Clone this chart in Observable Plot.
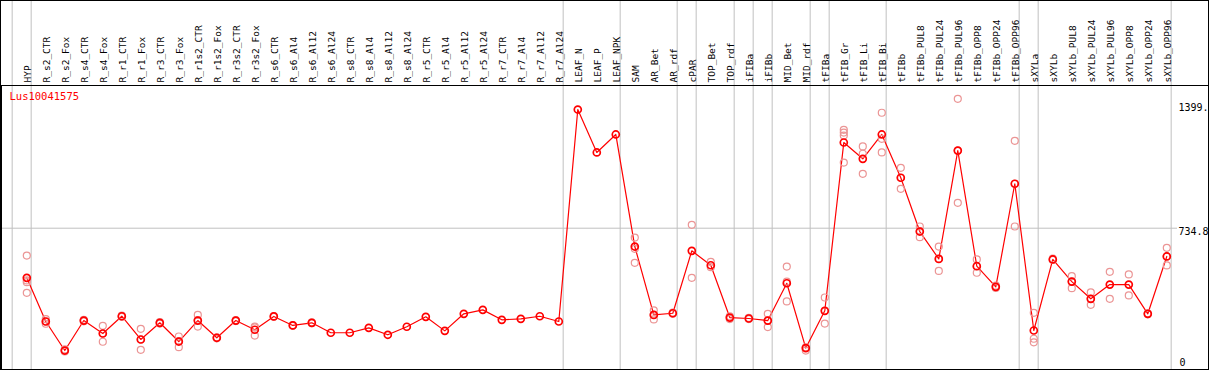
<!DOCTYPE html>
<html><head><meta charset="utf-8">
<script src="https://cdn.jsdelivr.net/npm/d3@7"></script>
<script src="https://cdn.jsdelivr.net/npm/@observablehq/plot@0.6"></script>
<style>
html,body{margin:0;padding:0;background:#fff;}
.chart{outline:1px solid #000;outline-offset:-1px;display:block;}
</style></head><body><div id="chart"></div>
<script>
const title = "Lus10041575";
const categories = ["HYP","R_s2_CTR","R_s2_Fox","R_s4_CTR","R_s4_Fox","R_r1_CTR","R_r1_Fox","R_r3_CTR","R_r3_Fox","R_r1s2_CTR","R_r1s2_Fox","R_r3s2_CTR","R_r3s2_Fox","R_s6_CTR","R_s6_Al4","R_s6_Al12","R_s6_Al24","R_s8_CTR","R_s8_Al4","R_s8_Al12","R_s8_Al24","R_r5_CTR","R_r5_Al4","R_r5_Al12","R_r5_Al24","R_r7_CTR","R_r7_Al4","R_r7_Al12","R_r7_Al24","LEAF_N","LEAF_P","LEAF_NPK","SAM","AR_Bet","AR_rdf","cPAR","TOP_Bet","TOP_rdf","iFIBa","iFIBb","MID_Bet","MID_rdf","tFIBa","tFIB_Gr","tFIB_Li","tFIB_Bi","tFIBb","tFIBb_PUL8","tFIBb_PUL24","tFIBb_PUL96","tFIBb_OPP8","tFIBb_OPP24","tFIBb_OPP96","sXYLa","sXYLb","sXYLb_PUL8","sXYLb_PUL24","sXYLb_PUL96","sXYLb_OPP8","sXYLb_OPP24","sXYLb_OPP96"];
const means = [470,237,82,242,173,265,141,230,130,242,150,242,193,264,216,230,177,177,203,166,209,262,187,278,299,246,251,265,237,1368,1139,1235,637,272,281,614,537,258,253,242,441,95,294,1192,1105,1235,1004,717,571,1149,532,422,972,189,568,450,358,434,434,278,584];
const replicates = [
  [589,456,447,390],[250,237,225],[88,82,77],[246,238],[214,173,129],[268,262],[198,141,86],[234,226],[157,132,100],[272,245,210],
  [153,147],[245,239],[210,205,162],[266,262],[218,214],[232,228],[],[],[],[],
  [],[],[],[],[],[],[],[],[],[],
  [],[],[685,625,550],[296,272,248],[284,278],[753,470],[555,527],[265,250],[256,250],[278,242,207],
  [530,450,344],[99,82],[365,294,226],[1260,1245,1229,1085],[1171,1132,1025],[1351,1212,1139],[1057,1004,945],[744,720,687],[637,571,507],[1425,1149,870],
  [568,532,497],[428,416],[1201,972,744],[283,145,126],[572,565],[479,450,415],[392,358,326],[502,358],[488,376],[281,275],
  [630,584,536]
];
const groupEnds = [-1,0,28,31,34,35,37,38,39,41,42,45,52,53,60];
const yTickValues = [0, 734.8, 1399];
const yTickLabels = ["0", "734.8", "1399."];

const meanData = categories.map((c, i) => ({i, c, v: means[i]}));
const repData = replicates.flatMap((r, i) => r.map(v => ({i, v})));
const ticks = yTickValues.map((v, k) => ({v, label: yTickLabels[k]}));

const chart = Plot.plot({
  width: 1209, height: 370,
  marginTop: 85, marginBottom: 1, marginLeft: 1, marginRight: 1,
  className: "chart",
  style: {fontFamily: "'DejaVu Sans Mono', monospace", fontSize: "10px", background: "#fff", overflow: "visible"},
  x: {type: "linear", domain: [-1.3316, 62.195], axis: null},
  y: {domain: [-19.2, 1496.3], axis: null},
  marks: [
    Plot.ruleY([734.8], {stroke: "#c0c0c0", insetRight: 31}),
    Plot.ruleX(groupEnds, {x: d => d + 0.23, stroke: "#c0c0c0", insetTop: -85}),
    Plot.frame({stroke: "#000"}),
    Plot.text(categories, {x: (d, i) => i, text: d => d, frameAnchor: "top", rotate: -90, textAnchor: "start", dx: -3, dy: -3, fontSize: 9.5, fill: "#000"}),
    Plot.line(meanData, {x: "i", y: "v", stroke: "#ff0000", strokeWidth: 1.2}),
    Plot.dot(repData, {x: "i", y: "v", r: 3.5, stroke: "#eb9595", strokeWidth: 1.2, fill: "none"}),
    Plot.dot(meanData, {x: "i", y: "v", r: 3.5, stroke: "#ff0000", strokeWidth: 1.7, fill: "none"}),
    Plot.text([title], {frameAnchor: "top-left", dx: 8, dy: 7, textAnchor: "start", lineAnchor: "top", fill: "#ff0000", fontSize: 10.5}),
    Plot.text(ticks.filter(d => d.v > 0), {y: "v", text: "label", frameAnchor: "right", dx: -30, textAnchor: "start", lineAnchor: "top", fill: "#000"}),
    Plot.text(ticks.filter(d => d.v === 0), {y: "v", text: "label", frameAnchor: "right", dx: -29, textAnchor: "start", lineAnchor: "bottom", fill: "#000"})
  ]
});
document.getElementById("chart").appendChild(chart);
</script></body></html>
